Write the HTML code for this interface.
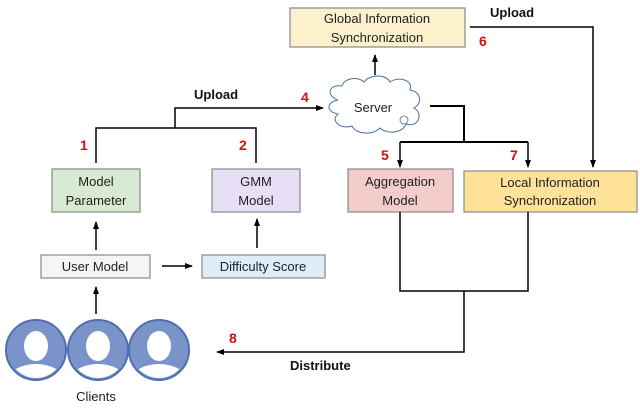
<!DOCTYPE html>
<html><head><style>
body{margin:0;background:#fff;}
</style></head><body>
<svg width="640" height="407" viewBox="0 0 640 407" xmlns="http://www.w3.org/2000/svg" font-family="Liberation Sans, sans-serif">
<defs>
<marker id="a" markerWidth="8" markerHeight="8" refX="7" refY="4" orient="auto" markerUnits="userSpaceOnUse"><path d="M0,1 L8,4 L0,7 z" fill="#000"/></marker>
<clipPath id="c1"><circle cx="0" cy="0" r="28"/></clipPath>
</defs>
<!-- boxes -->
<rect x="290" y="8" width="175" height="39" fill="#fdf0cd" stroke="#888" stroke-width="1.2"/>
<text x="377" y="23" font-size="13" text-anchor="middle" fill="#222">Global Information</text>
<text x="377" y="42" font-size="13" text-anchor="middle" fill="#222">Synchronization</text>
<rect x="52" y="169" width="88" height="43" fill="#d9ead3" stroke="#888" stroke-width="1.2"/>
<text x="96" y="186" font-size="13" text-anchor="middle" fill="#222">Model</text>
<text x="96" y="205" font-size="13" text-anchor="middle" fill="#222">Parameter</text>
<rect x="212" y="169" width="88" height="43" fill="#e6dff5" stroke="#888" stroke-width="1.2"/>
<text x="256" y="186" font-size="13" text-anchor="middle" fill="#222">GMM</text>
<text x="256" y="205" font-size="13" text-anchor="middle" fill="#222">Model</text>
<rect x="348" y="169" width="105" height="43" fill="#f4cccc" stroke="#888" stroke-width="1.2"/>
<text x="400" y="186" font-size="13" text-anchor="middle" fill="#222">Aggregation</text>
<text x="400" y="205" font-size="13" text-anchor="middle" fill="#222">Model</text>
<rect x="464" y="171" width="173" height="41" fill="#ffe29a" stroke="#888" stroke-width="1.2"/>
<text x="550" y="187" font-size="13" text-anchor="middle" fill="#222">Local  Information</text>
<text x="550" y="205" font-size="13" text-anchor="middle" fill="#222">Synchronization</text>
<rect x="41" y="255" width="109" height="23" fill="#f5f5f5" stroke="#888" stroke-width="1.2"/>
<text x="95" y="271" font-size="13" text-anchor="middle" fill="#222">User Model</text>
<rect x="202" y="255" width="123" height="23" fill="#ddeefa" stroke="#888" stroke-width="1.2"/>
<text x="263" y="271" font-size="13" text-anchor="middle" fill="#222">Difficulty Score</text>
<!-- cloud -->
<path d="M338,100 C326,96 328,84 342,86 C344,78 358,76 364,82 C370,74 386,74 390,82 C398,76 414,80 410,90 C422,92 422,104 414,108 C424,114 418,128 406,124 C402,134 386,134 380,128 C372,136 356,134 352,126 C340,130 330,120 338,114 C326,112 326,102 338,100 Z" fill="#fff" stroke="#4a6ea9" stroke-width="1"/>
<circle cx="404" cy="120" r="4" fill="none" stroke="#4a6ea9" stroke-width="0.8"/>
<text x="373" y="112" font-size="13" text-anchor="middle" fill="#222">Server</text>
<!-- connectors -->
<g stroke="#000" stroke-width="1.5" fill="none">
<path d="M96,163 V128 H256 V163"/>
<path d="M175,128 V108 H323" marker-end="url(#a)"/>
<path d="M375,75 V55" marker-end="url(#a)"/>
<path d="M470,27 H593 V167" marker-end="url(#a)"/>
<path d="M430,106 H464 V142" stroke-width="2"/>
<path d="M400,142 H528" stroke-width="2"/>
<path d="M400,142 V167" marker-end="url(#a)"/>
<path d="M528,142 V167" marker-end="url(#a)"/>
<path d="M400,212 V291 H528 V212"/>
<path d="M464,291 V352 H217" marker-end="url(#a)"/>
<path d="M96,250 V222" marker-end="url(#a)"/>
<path d="M257,248 V219" marker-end="url(#a)"/>
<path d="M162,266 H192" marker-end="url(#a)"/>
<path d="M96,314 V287" marker-end="url(#a)"/>
</g>
<!-- labels -->
<g font-weight="bold" font-size="13" fill="#111">
<text x="194" y="99">Upload</text>
<text x="490" y="17">Upload</text>
<text x="290" y="370">Distribute</text>
</g>
<g font-size="14" fill="#d01010" font-weight="bold">
<text x="80" y="150">1</text><text x="239" y="150">2</text><text x="301" y="102">4</text>
<text x="381" y="160">5</text><text x="479" y="46">6</text><text x="510" y="160">7</text>
<text x="229" y="343">8</text>
</g>
<!-- clients -->
<g>
<g transform="translate(36,350)"><circle r="30" fill="#7a93c9" stroke="#4f6fb0" stroke-width="2"/><g clip-path="url(#c1)"><ellipse cx="0" cy="-4" rx="12" ry="15" fill="#fff"/><ellipse cx="0" cy="28" rx="26" ry="14" fill="#fff"/></g></g>
<g transform="translate(98,350)"><circle r="30" fill="#7a93c9" stroke="#4f6fb0" stroke-width="2"/><g clip-path="url(#c1)"><ellipse cx="0" cy="-4" rx="12" ry="15" fill="#fff"/><ellipse cx="0" cy="28" rx="26" ry="14" fill="#fff"/></g></g>
<g transform="translate(159,350)"><circle r="30" fill="#7a93c9" stroke="#4f6fb0" stroke-width="2"/><g clip-path="url(#c1)"><ellipse cx="0" cy="-4" rx="12" ry="15" fill="#fff"/><ellipse cx="0" cy="28" rx="26" ry="14" fill="#fff"/></g></g>
</g>
<text x="96" y="401" font-size="13" text-anchor="middle" fill="#222">Clients</text>
</svg>
</body></html>
